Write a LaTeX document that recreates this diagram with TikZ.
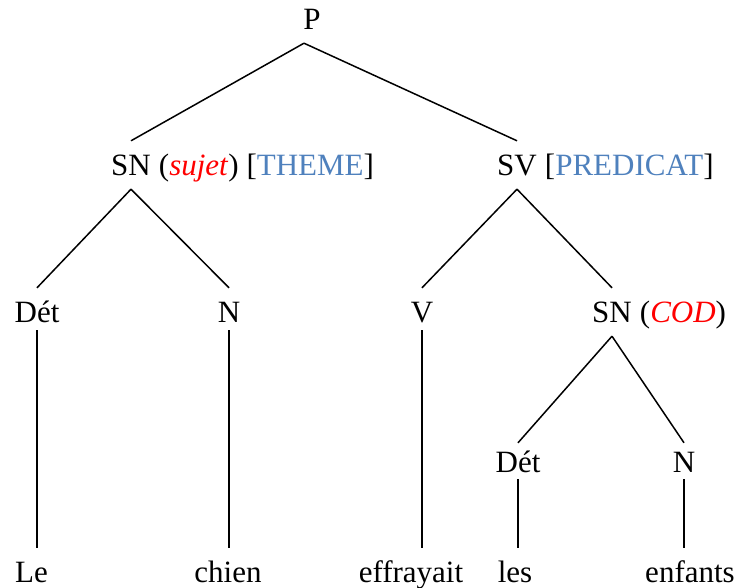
\documentclass[tikz,border=0pt]{standalone}
\usepackage{fontspec}
\setmainfont{Liberation Serif}
\definecolor{sred}{RGB}{255,0,0}
\definecolor{sblue}{RGB}{79,129,189}
\begin{document}
\begin{tikzpicture}[x=1pt,y=-1pt,
  every node/.style={font=\fontsize{31pt}{36pt}\selectfont, inner xsep=0pt},
  cat/.style={anchor=base, text height=28pt, text depth=0pt, inner ysep=7pt},
  branch/.style={cat, text depth=6pt},
  extra/.style={anchor=base west, inner sep=0pt},
  leaf/.style={anchor=base, text height=21pt, text depth=0pt, inner ysep=13pt},
  edge/.style={line width=1.5pt}]
\useasboundingbox (0,0) rectangle (737,588);
% categories
\node[branch] (P) at (312,30) {P};
\node[branch] (SN1) at (131,176) {SN};
\node[extra] (SN1x) at ([xshift=7.75pt]SN1.base east) {(\textcolor{sred}{\textit{sujet}}) [\textcolor{sblue}{THEME}]};
\node[branch] (SV) at (517,176) {SV};
\node[extra] (SVx) at ([xshift=7.75pt]SV.base east) {[\textcolor{sblue}{PREDICAT}]};
\node[cat] (D1) at (37,323) {Dét};
\node[cat] (N1) at (229,323) {N};
\node[cat] (V) at (422,323) {V};
\node[branch] (SN2) at (612,323) {SN};
\node[extra] (SN2x) at ([xshift=7.75pt]SN2.base east) {(\textcolor{sred}{\textit{COD}})};
\node[cat, text height=22pt] (D2) at (518,472) {Dét};
\node[cat, text height=22pt] (N2) at (684,472) {N};
% leaves
\node[leaf, anchor=base west] (Le) at (15,582) {Le};
\node[leaf] (chien) at (228,582) {chien};
\node[leaf] (eff) at (411,582) {effrayait};
\node[leaf] (les) at (515,582) {les};
\node[leaf] (enf) at (690,582) {enfants};
% edges
\draw[edge] ([xshift=-8pt]P.south) -- (SN1.north);
\draw[edge] ([xshift=-8pt]P.south) -- (SV.north);
\draw[edge] (SN1.south) -- (D1.north);
\draw[edge] (SN1.south) -- (N1.north);
\draw[edge] (SV.south) -- (V.north);
\draw[edge] (SV.south) -- (SN2.north);
\draw[edge] (SN2.south) -- (D2.north);
\draw[edge] (SN2.south) -- (N2.north);
\draw[edge] (D1.south) -- (D1.south |- Le.north);
\draw[edge] (N1.south) -- (N1.south |- chien.north);
\draw[edge] (V.south) -- (V.south |- eff.north);
\draw[edge] (D2.south) -- (D2.south |- les.north);
\draw[edge] (N2.south) -- (N2.south |- enf.north);
\end{tikzpicture}
\end{document}
